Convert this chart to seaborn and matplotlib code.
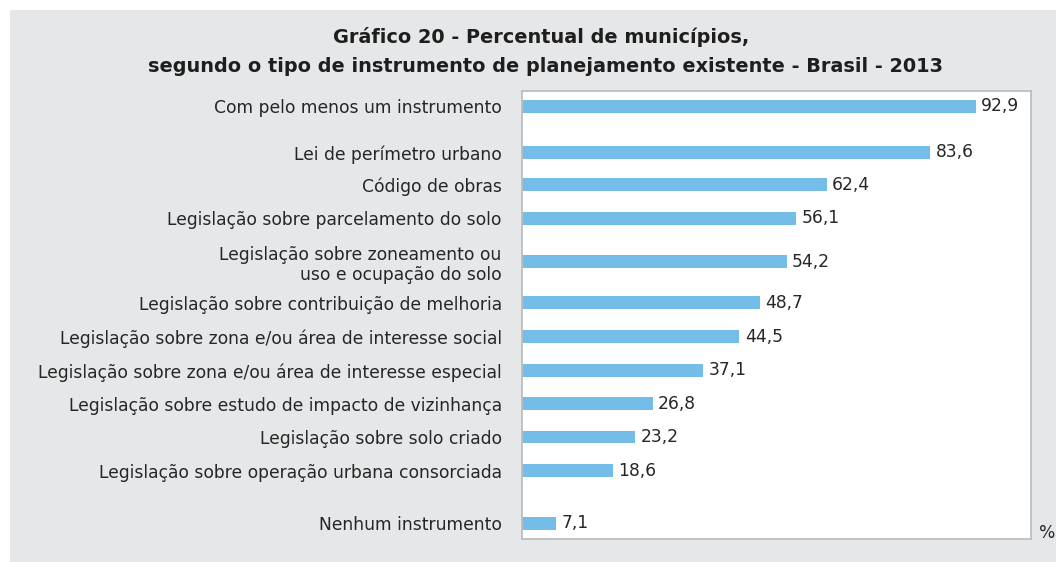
import numpy as np
import pandas as pd
import matplotlib.pyplot as plt
import seaborn as sns
from matplotlib.patches import Rectangle

# =====================================================
# DATA
# =====================================================

instrumentos = [
    "Com pelo menos um instrumento",
    "Lei de perímetro urbano",
    "Código de obras",
    "Legislação sobre parcelamento do solo",
    "Legislação sobre zoneamento ou\nuso e ocupação do solo",
    "Legislação sobre contribuição de melhoria",
    "Legislação sobre zona e/ou área de interesse social",
    "Legislação sobre zona e/ou área de interesse especial",
    "Legislação sobre estudo de impacto de vizinhança",
    "Legislação sobre solo criado",
    "Legislação sobre operação urbana consorciada",
    "Nenhum instrumento",
]

percentual = [92.9, 83.6, 62.4, 56.1, 54.2, 48.7, 44.5, 37.1, 26.8, 23.2, 18.6, 7.1]

# layout: row positions (uneven gaps as in the original)
posicao = [0, 1.37, 2.34, 3.34, 4.63, 5.86, 6.87, 7.88, 8.87, 9.87, 10.87, 12.45]

# =====================================================
# STYLE
# =====================================================

sns.set_theme(style="white")
plt.rcParams["font.family"] = ["DejaVu Sans"]

cor_barra = "#73bde8"
cor_fundo = "#e6e7e8"
cor_borda = "#bcbec0"
cor_texto = "#262626"

df = pd.DataFrame({
    "instrumento": instrumentos,
    "percentual": percentual,
    "posicao": posicao,
})

# =====================================================
# FIGURE
# =====================================================

fig = plt.figure(figsize=(10.56, 5.62), dpi=100, facecolor="white")
fig.patches.append(Rectangle((10 / 1056, 0), 1, 1 - 10 / 562,
                             transform=fig.transFigure, facecolor=cor_fundo,
                             edgecolor="none", zorder=-10))

ax = fig.add_axes([521.7 / 1056, 1 - 538.5 / 562,
                   (1031.3 - 521.7) / 1056, (538.5 - 90.7) / 562])
ax.set_facecolor("white")

altura_barra = 0.38

sns.barplot(
    data=df,
    x="percentual",
    y="posicao",
    orient="y",
    native_scale=True,
    color=cor_barra,
    saturation=1,
    errorbar=None,
    ax=ax,
)

# same bar thickness everywhere, centred on its row
for bar in ax.patches:
    centro = bar.get_y() + bar.get_height() / 2
    bar.set_height(altura_barra)
    bar.set_y(centro - altura_barra / 2)
    bar.set_linewidth(0)

for _, row in df.iterrows():
    ax.annotate(
        f"{row['percentual']:.1f}".replace(".", ","),
        xy=(row["percentual"], row["posicao"]),
        xytext=(4, 0),
        textcoords="offset points",
        va="center",
        ha="left",
        fontsize=12.3,
        color=cor_texto,
    )

ax.set_xlim(0, 104.3)
ax.set_ylim(12.9, -0.47)
ax.set_xticks([])
ax.set_yticks(posicao, instrumentos)
ax.tick_params(axis="y", length=0, pad=14.4, labelsize=12.3, labelcolor=cor_texto)
ax.set_xlabel("")
ax.set_ylabel("")

for spine in ax.spines.values():
    spine.set_visible(True)
    spine.set_color(cor_borda)
    spine.set_linewidth(1.3)

# =====================================================
# TITLE AND UNIT
# =====================================================

fig.text(541 / 1056, 1 - 37 / 562, "Gráfico 20 - Percentual de municípios,",
         ha="center", va="center", fontsize=13.9, fontweight="bold", color="#1e1e1e")
fig.text(546 / 1056, 1 - 66 / 562,
         "segundo o tipo de instrumento de planejamento existente - Brasil - 2013",
         ha="center", va="center", fontsize=13.9, fontweight="bold", color="#1e1e1e")
fig.text(1047 / 1056, 1 - 533 / 562, "%", ha="center", va="center",
         fontsize=12.3, color=cor_texto)

plt.savefig("out.png", dpi=100, facecolor=fig.get_facecolor())
plt.close()
